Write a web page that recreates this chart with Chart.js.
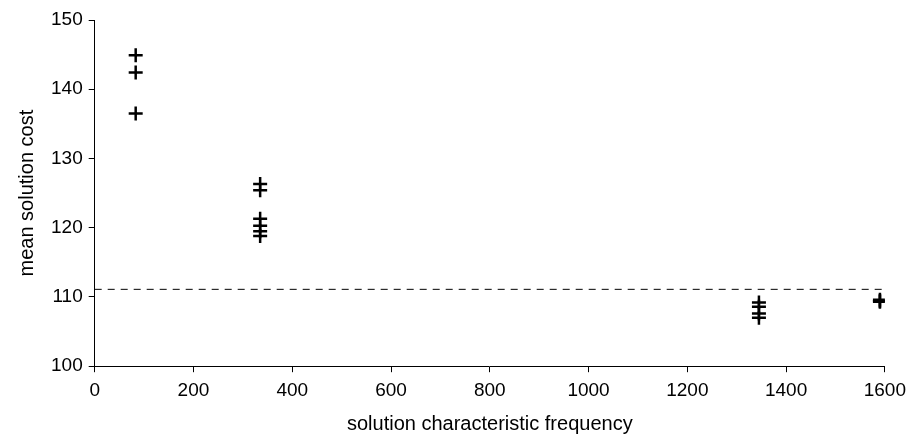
<!DOCTYPE html>
<html>
<head>
<meta charset="utf-8">
<script src="https://cdn.jsdelivr.net/npm/chart.js@4"></script>
<style>
html,body{margin:0;padding:0;background:#fff;}
#wrap{width:913px;height:441px;position:relative;}
</style>
</head>
<body>
<div id="wrap"><canvas id="c"></canvas></div>
<script>
const freqX = [83, 83, 83, 335, 335, 335, 335, 335, 335, 1345, 1345, 1345, 1345, 1590, 1590, 1590];
const costY = [144.9, 142.4, 136.5, 126.3, 125.4, 121.3, 120.3, 119.5, 118.8, 109.2, 108.6, 107.6, 107.0, 109.6, 109.3, 109.4];
const refLineX = [0, 1600];
const refLineY = [111.1, 111.1];
const xTicks = [0, 200, 400, 600, 800, 1000, 1200, 1400, 1600];
const yTicks = [100, 110, 120, 130, 140, 150];

const points = freqX.map((x, i) => ({x: x, y: costY[i]}));
const refLine = refLineX.map((x, i) => ({x: x, y: refLineY[i]}));

Chart.defaults.font.family = '"Liberation Sans", Arial, sans-serif';
Chart.defaults.color = '#000';

new Chart(document.getElementById('c'), {
  type: 'scatter',
  data: {
    datasets: [
      {
        data: points,
        pointStyle: 'cross',
        pointRadius: 7,
        pointBorderWidth: 2.5,
        borderColor: '#000',
        backgroundColor: '#000',
        showLine: false
      },
      {
        type: 'line',
        data: refLine,
        borderColor: '#000',
        borderWidth: 1,
        borderDash: [7, 6],
        pointRadius: 0,
        fill: false
      }
    ]
  },
  options: {
    responsive: true,
    maintainAspectRatio: false,
    animation: false,
    layout: {padding: {left: 15, right: 4, top: 20, bottom: 5}},
    plugins: {legend: {display: false}, tooltip: {enabled: false}},
    scales: {
      x: {
        type: 'linear',
        min: 0, max: 1600,
        afterBuildTicks: s => { s.ticks = xTicks.map(v => ({value: v})); },
        ticks: {font: {size: 19}, padding: 7, maxRotation: 0, callback: v => String(v)},
        grid: {display: true, drawOnChartArea: false, drawTicks: true, tickLength: 6, color: '#000'},
        border: {display: true, color: '#000', width: 1},
        title: {display: true, text: 'solution characteristic frequency', font: {size: 20}, padding: {top: 3, bottom: 0}}
      },
      y: {
        type: 'linear',
        min: 100, max: 150,
        afterBuildTicks: s => { s.ticks = yTicks.map(v => ({value: v})); },
        ticks: {font: {size: 19}, padding: 6, callback: v => String(v)},
        grid: {display: true, drawOnChartArea: false, drawTicks: true, tickLength: 6, color: '#000'},
        border: {display: true, color: '#000', width: 1},
        title: {display: true, text: 'mean solution cost', font: {size: 20}, padding: {bottom: 6, top: 0}}
      }
    }
  }
});
</script>
</body>
</html>
